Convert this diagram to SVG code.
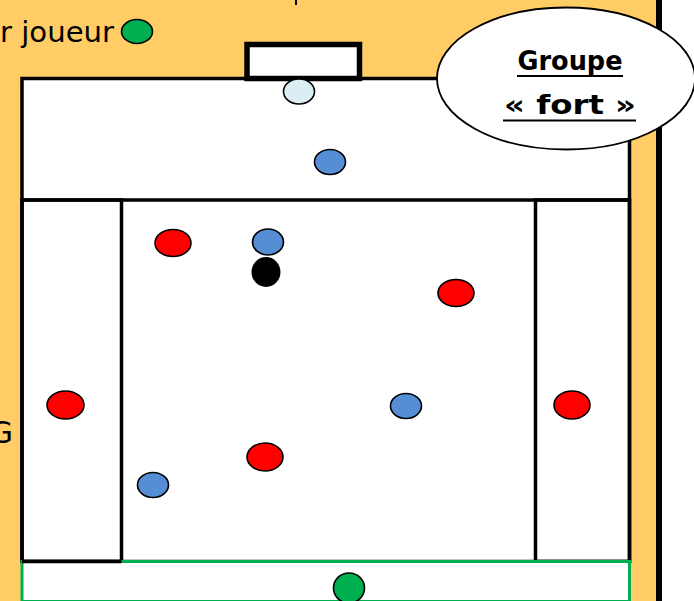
<svg xmlns="http://www.w3.org/2000/svg" width="694" height="601" viewBox="0 0 694 601">
<style>
.ln{fill:none;stroke:#000;stroke-width:3.5}
.p{stroke:#000;stroke-width:1.6}
.red{fill:#FF0000}
.blue{fill:#558ED5}
.lblue{fill:#DAEEF3}
.green{fill:#00B050}
.t{font-family:"DejaVu Sans","Liberation Sans",sans-serif;fill:#000}
</style>
<rect x="0" y="0" width="694" height="601" fill="#FFFFFF"/>
<rect x="0" y="0" width="657" height="601" fill="#FFCC66"/>
<rect x="656" y="0" width="6" height="601" fill="#000"/>
<line x1="296" y1="0" x2="296" y2="5" stroke="#000" stroke-width="2"/>
<g id="field">
<rect x="22" y="78.5" width="607.5" height="483" style="fill:#FFFFFF;stroke:#000;stroke-width:3.5"/>
<line x1="22" y1="200" x2="629.5" y2="200" class="ln"/>
<rect x="22" y="200" width="99.5" height="361.5" class="ln"/>
<rect x="535.5" y="200" width="94" height="361.5" class="ln"/>
<rect x="22" y="561.5" width="607.5" height="40" fill="#FFFFFF" stroke="#00B050" stroke-width="3"/>
<line x1="22" y1="561.5" x2="121.5" y2="561.5" class="ln"/>
</g>
<g id="goal">
<rect x="247" y="44.5" width="112.5" height="34" fill="#FFFFFF" stroke="#000" stroke-width="5.5"/>
</g>
<g id="legend">
<text class="t" x="114" y="42" font-size="29" text-anchor="end" textLength="114" lengthAdjust="spacingAndGlyphs">r joueur</text>
<ellipse cx="137" cy="31.5" rx="15.5" ry="12" class="p green"/>
</g>
<text class="t" x="13" y="443" font-size="30" text-anchor="end">G</text>
<g id="label-groupe">
<ellipse cx="566" cy="78.5" rx="129" ry="71" fill="#FFFFFF" stroke="#000" stroke-width="1.8"/>
<text class="t" x="570" y="70" font-size="27" font-weight="bold" text-anchor="middle" textLength="105" lengthAdjust="spacingAndGlyphs">Groupe</text>
<line x1="517" y1="76" x2="623" y2="76" stroke="#000" stroke-width="2.2"/>
<text class="t" x="570" y="114" font-size="27" font-weight="bold" text-anchor="middle" textLength="132" lengthAdjust="spacingAndGlyphs">« fort »</text>
<line x1="503" y1="120.5" x2="636" y2="120.5" stroke="#000" stroke-width="2.2"/>
</g>
<g id="players">
<g id="gk"><ellipse cx="299" cy="91.5" rx="15.5" ry="12.5" class="p lblue"/></g>
<g id="b1"><ellipse cx="330" cy="162" rx="15.5" ry="12.5" class="p blue"/></g>
<g id="r1"><ellipse cx="173" cy="243" rx="18" ry="13.5" class="p red"/></g>
<g id="b2"><ellipse cx="268" cy="242" rx="15.5" ry="13" class="p blue"/></g>
<g id="ball"><ellipse cx="266" cy="272" rx="14.5" ry="15" fill="#000"/></g>
<g id="r2"><ellipse cx="456" cy="293" rx="18" ry="13.5" class="p red"/></g>
<g id="r3"><ellipse cx="65.5" cy="405" rx="18.5" ry="14" class="p red"/></g>
<g id="b3"><ellipse cx="406" cy="406" rx="15.5" ry="12.5" class="p blue"/></g>
<g id="r4"><ellipse cx="572" cy="405" rx="18" ry="14" class="p red"/></g>
<g id="r5"><ellipse cx="265" cy="457" rx="18" ry="14" class="p red"/></g>
<g id="b4"><ellipse cx="153" cy="485" rx="15.5" ry="12.5" class="p blue"/></g>
<g id="g1"><ellipse cx="349" cy="588" rx="15.5" ry="15" class="p green"/></g>
</g>
<g id="connectors"/>
</svg>
